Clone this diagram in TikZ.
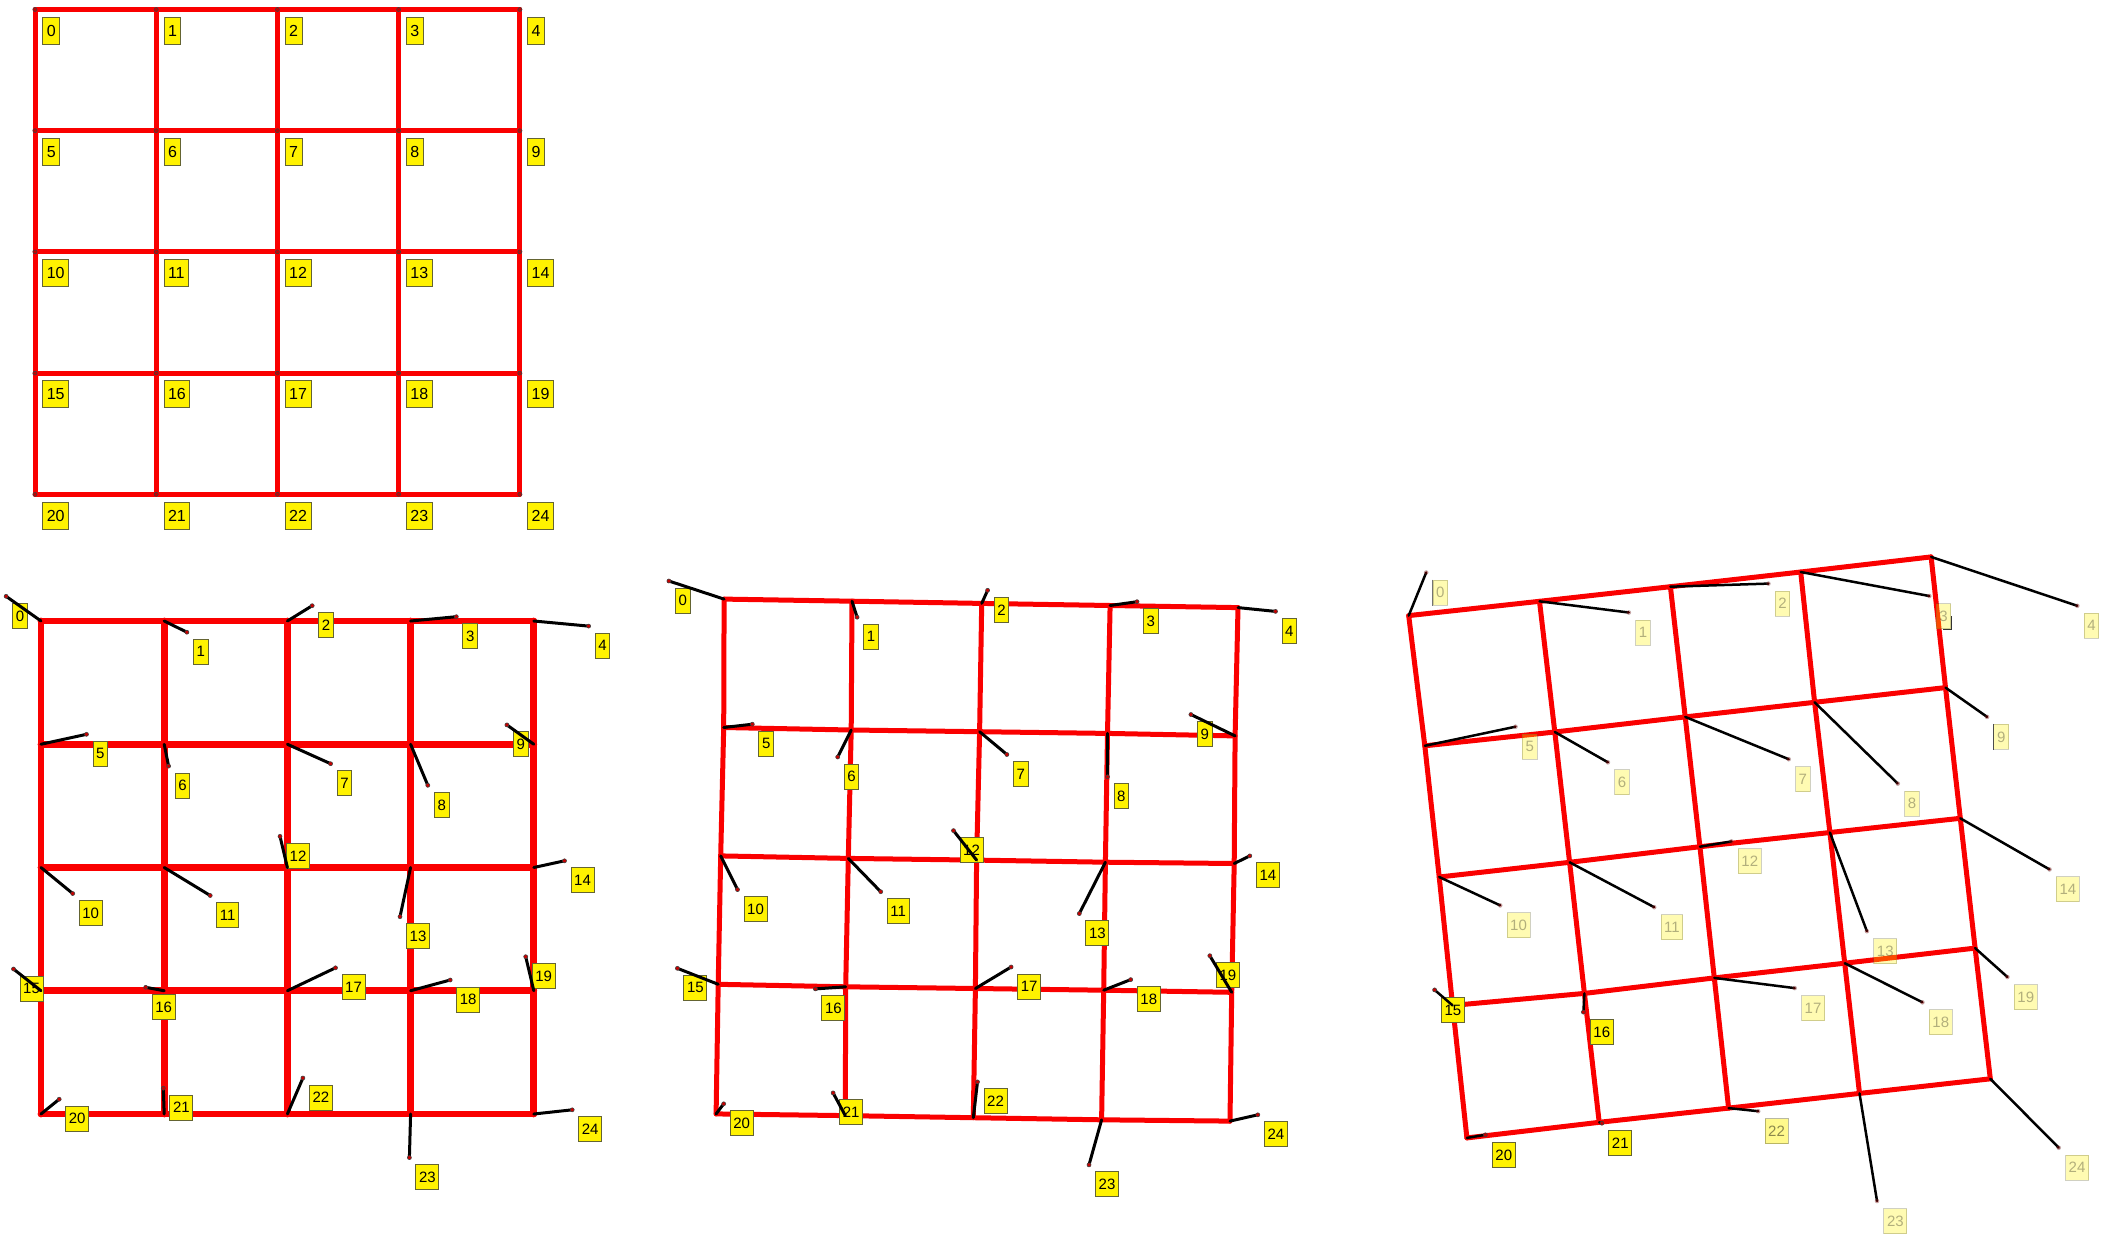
\documentclass[tikz,border=0pt]{standalone}
\usepackage{fontspec}
\setmainfont{Liberation Sans}
\tikzset{
 redline/.style={draw={rgb,255:red,250;green,0;blue,0}, line width=2.5pt, line join=round, line cap=round},
 redthick/.style={redline, line width=3.4pt},
 blk/.style={black, line width=1.5pt, line cap=round},
 blkthin/.style={black, line width=1.25pt, line cap=round},
 enddot/.style={circle, fill={rgb,255:red,200;green,0;blue,0}, draw=black!75, line width=0.3pt, inner sep=0pt, minimum size=2pt},
 lbl/.style={fill=yellow, draw={rgb,255:red,100;green,100;blue,50}, line width=0.5pt,
   font=\fontsize{7.5}{9}\selectfont, inner xsep=1.6pt, inner ysep=0pt, minimum height=12.5pt,
   text depth=0pt, anchor=north west},
 lblbig/.style={lbl, font=\fontsize{8}{9}\selectfont, inner xsep=2pt, minimum height=13.5pt},
 faded/.style={opacity=0.3},
}
\newcommand\drawgrid[2]{%
 \foreach \s in {0,5,10,15,20}{%
   \pgfmathtruncatemacro\qa{\s+1}\pgfmathtruncatemacro\qb{\s+2}%
   \pgfmathtruncatemacro\qc{\s+3}\pgfmathtruncatemacro\qd{\s+4}%
   \draw[#2] (#1\s)--(#1\qa)--(#1\qb)--(#1\qc)--(#1\qd);}%
 \foreach \s in {0,...,4}{%
   \pgfmathtruncatemacro\qa{\s+5}\pgfmathtruncatemacro\qb{\s+10}%
   \pgfmathtruncatemacro\qc{\s+15}\pgfmathtruncatemacro\qd{\s+20}%
   \draw[#2] (#1\s)--(#1\qa)--(#1\qb)--(#1\qc)--(#1\qd);}%
}
\begin{document}
\begin{tikzpicture}[x=0.5pt,y=-0.5pt]
\fill[white] (0,0) rectangle (2105,1237);
\path[use as bounding box] (0,0) rectangle (2105,1237);

% ---------- panel 1 ----------
\foreach \r in {0,...,4}{\foreach \c in {0,...,4}{%
  \pgfmathtruncatemacro\n{5*\r+\c}%
  \coordinate (a\n) at ({35+121.2*\c},{9.5+121.2*\r});}}
\drawgrid{a}{redline}
\foreach \i in {0,...,24}{%
  \node[enddot] at (a\i) {};
  \node[lblbig] (al\i) at ([shift={(7.3,7.2)}]a\i) {\i};}

% ---------- panel 2 ----------
\foreach \r in {0,...,4}{\foreach \c in {0,...,4}{%
  \pgfmathtruncatemacro\n{5*\r+\c}%
  \coordinate (b\n) at ({41+123.2*\c},{621+123.25*\r});}}
\foreach \i/\x/\y in {0/6.1/596.3, 1/186.9/632.2, 2/312.2/605.7, 3/456.3/616.7, 4/588.6/626.1,
  5/86.5/734.3, 6/168.6/766.1, 7/330.6/763.7, 8/427.8/785.3, 9/506.9/724.9,
  10/72.7/893.5, 11/210.2/895.5, 12/280/836.3, 13/400/916.7, 14/564.5/860.8,
  15/13.5/969, 16/145.7/987.3, 17/335.5/967.8, 18/450.2/980, 19/525.7/956.7,
  20/59.2/1099.2, 21/163.3/1088.2, 22/302.9/1078, 23/409.4/1157.6, 24/572.2/1109.8}
  {\coordinate (be\i) at (\x,\y);}
\drawgrid{b}{redthick}
\foreach \i in {0,...,24}{\node[lbl] (bl\i) at ([shift={(6,6.5)}]be\i) {\i};}
\foreach \i in {0,...,24}{\draw[blk] (b\i) -- (be\i); \node[enddot] at (be\i) {};}

% ---------- panel 3 ----------
\foreach \i/\x/\y in {0/724.1/599.1, 1/852.0/601.2, 2/981.7/603.4, 3/1110.1/605.5, 4/1238.0/607.6,
  5/723.7/727.5, 6/851.2/730.0, 7/979.6/731.7, 8/1107.5/733.4, 9/1235.1/735.9,
  10/720.7/855.9, 11/848.3/858.4, 12/976.6/860.1, 13/1105.4/862.2, 14/1234.2/863.5,
  15/718.2/984.3, 16/845.7/986.8, 17/975.4/988.5, 18/1103.7/990.2, 19/1231.7/992.3,
  20/716.1/1113.9, 21/845.3/1115.6, 22/973.3/1117.7, 23/1101.6/1119.8, 24/1230.0/1121.1}
  {\coordinate (c\i) at (\x,\y);}
\foreach \i/\x/\y in {0/668.9/581.0, 1/857.1/617.2, 2/987.6/590.3, 3/1137.0/601.7, 4/1275.5/611.4,
  5/752.3/724.2, 6/837.7/757.0, 7/1006.9/754.5, 8/1107.5/776.8, 9/1190.9/714.5,
  10/737.5/889.6, 11/880.7/891.7, 12/953.5/830.6, 13/1079.3/913.6, 14/1249.8/855.9,
  15/677.4/968.3, 16/815.4/988.9, 17/1011.1/967.0, 18/1130.7/979.6, 19/1209.8/955.7,
  20/723.7/1103.8, 21/833.1/1092.9, 22/977.5/1081.9, 23/1089.0/1164.9, 24/1257.8/1114.8}
  {\coordinate (ce\i) at (\x,\y);}
\drawgrid{c}{redline}
\foreach \i in {0,...,24}{\node[lbl] (cl\i) at ([shift={(6,6.5)}]ce\i) {\i};}
\foreach \i in {0,...,24}{\draw[blk] (c\i) -- (ce\i); \node[enddot] at (ce\i) {};}

% ---------- panel 4 ----------
\foreach \i/\x/\y in {0/1408.7/615.6, 1/1539.5/601.3, 2/1670.4/586.7, 3/1800.7/572.0, 4/1931.1/556.9,
  5/1424.8/745.8, 6/1554.8/732.0, 7/1685.2/716.9, 8/1814.6/702.3, 9/1945.5/687.6,
  10/1439.2/877.0, 11/1569.6/862.3, 12/1699.9/846.7, 13/1829.9/832.5, 14/1960.3/818.3,
  15/1452.6/1005.4, 16/1584.4/993.4, 17/1714.3/977.9, 18/1844.7/963.2, 19/1975.1/948.1,
  20/1466.9/1137.9, 21/1599.2/1122.3, 22/1728.6/1108.1, 23/1859.5/1093.4, 24/1990.3/1078.8}
  {\coordinate (d\i) at (\x,\y);}
\foreach \i/\x/\y in {0/1426.2/572.5, 1/1628.8/612.5, 2/1768.4/583.6, 3/1929.3/596.0, 4/2077.3/605.8,
  5/1515.5/726.7, 6/1607.9/762.3, 7/1788.7/759.2, 8/1897.8/783.6, 9/1987.1/716.9,
  10/1500.2/905.4, 11/1654.2/907.2, 12/1731.4/841.4, 13/1866.9/931.2, 14/2049.5/869.4,
  15/1434.6/989.9, 16/1583.4/1012.1, 17/1794.7/988.1, 18/1922.4/1002.3, 19/2007.4/977.0,
  20/1485.4/1134.8, 21/1601.9/1123.2, 22/1758.2/1111.2, 23/1877.0/1201.0, 24/2058.7/1147.7}
  {\coordinate (de\i) at (\x,\y);}
\drawgrid{d}{redline}
\foreach \i in {0,1,2,3,4,5,6,7,8,9,10,11,12,13,14,17,18,19,23,24}
  {\node[lbl,faded] (dl\i) at ([shift={(6.3,7)}]de\i) {\i};}
\node[lbl,opacity=0.45] (dl22) at ([shift={(6.3,7)}]de22) {22};
\foreach \i in {15,16,20,21}{\node[lbl] (dl\i) at ([shift={(6.3,7)}]de\i) {\i};}
\draw[black!55, line width=0.5pt] (dl0.north west) -- (dl0.south west);
\draw[black!70, line width=0.5pt] (dl9.north west) -- (dl9.south west);
\draw[black!80, line width=0.5pt] (dl3.east) -- (dl3.south east) -- (dl3.south);
\foreach \i in {0,...,24}{\draw[blkthin] (d\i) -- (de\i);}
\foreach \i in {0,1,2,3,4,5,6,7,8,9,10,11,12,13,14,17,18,19,22,23,24}
  {\node[enddot,faded] at (de\i) {};}
\foreach \i in {15,16,20,21}{\node[enddot] at (de\i) {};}
\end{tikzpicture}
\end{document}
